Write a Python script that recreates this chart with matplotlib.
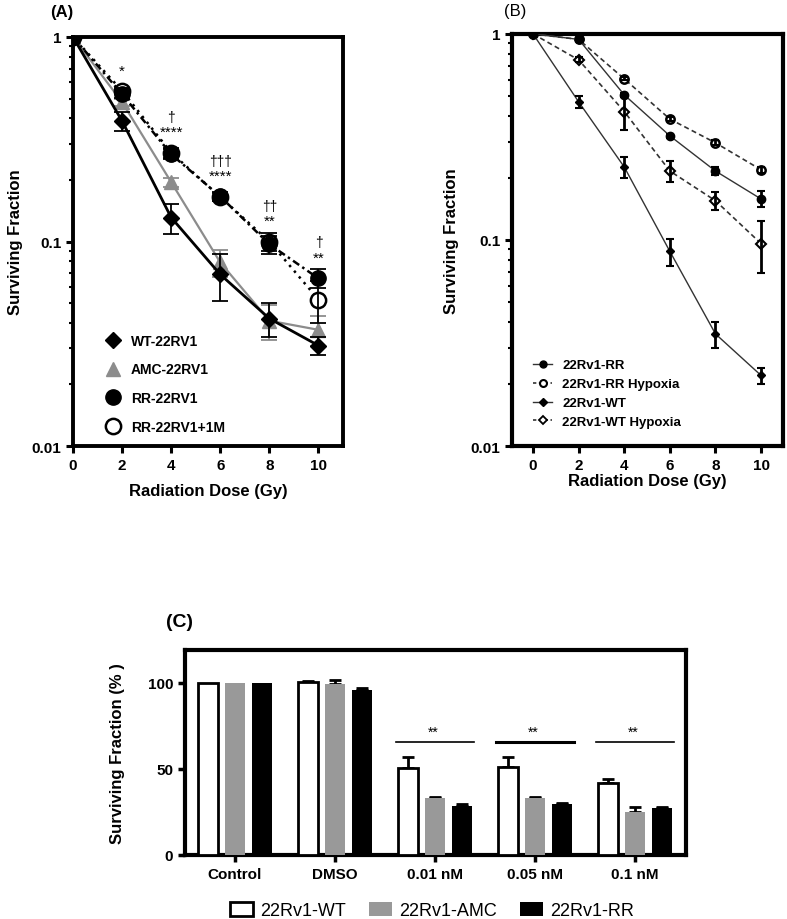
import matplotlib
matplotlib.use("Agg")
import matplotlib.pyplot as plt
from matplotlib.ticker import LogLocator, NullFormatter, FixedLocator
from matplotlib.lines import Line2D
from matplotlib.patches import Patch
import numpy as np

plt.rcParams['font.family'] = ['Liberation Sans', 'DejaVu Sans']

# ---------------- Panel A data ----------------
dose = [0, 2, 4, 6, 8, 10]
a_wt = [1.0, 0.388, 0.131, 0.069, 0.042, 0.031]
a_wt_err = [0.0, 0.04, 0.022, 0.018, 0.008, 0.003]
a_amc = [1.0, 0.48, 0.195, 0.079, 0.041, 0.037]
a_amc_err = [0.0, 0.02, 0.01, 0.012, 0.008, 0.006]
a_rr = [1.0, 0.525, 0.267, 0.166, 0.097, 0.066]
a_rr_err = [0.0, 0.02, 0.015, 0.008, 0.01, 0.007]
a_rr1m = [1.0, 0.545, 0.272, 0.165, 0.100, 0.052]
a_rr1m_err = [0.0, 0.02, 0.015, 0.008, 0.01, 0.012]
a_labels = ['WT-22RV1', 'AMC-22RV1', 'RR-22RV1', 'RR-22RV1+1M']
a_sig_x = [2, 4, 6, 8, 10]
a_sig_star = ['*', '****', '****', '**', '**']
a_sig_dag = ['', '†', '†††', '††', '†']

# ---------------- Panel B data ----------------
b_rr = [1.0, 0.94, 0.506, 0.32, 0.216, 0.158]
b_rr_err = [0.0, 0.01, 0.01, 0.008, 0.01, 0.014]
b_rrh = [1.0, 0.94, 0.605, 0.386, 0.296, 0.219]
b_rrh_err = [0.0, 0.01, 0.01, 0.01, 0.008, 0.008]
b_wt = [1.0, 0.468, 0.226, 0.088, 0.035, 0.022]
b_wt_err = [0.0, 0.03, 0.027, 0.013, 0.005, 0.002]
b_wth = [1.0, 0.748, 0.42, 0.216, 0.155, 0.096]
b_wth_err = [0.0, 0.02, 0.08, 0.025, 0.015, 0.027]
b_labels = ['22Rv1-RR', '22Rv1-RR Hypoxia', '22Rv1-WT', '22Rv1-WT Hypoxia']

# ---------------- Panel C data ----------------
c_groups = ['Control', 'DMSO', '0.01 nM', '0.05 nM', '0.1 nM']
c_wt = [100, 100.6, 50.6, 50.8, 41.9]
c_wt_err = [0, 0.5, 6.0, 6.0, 2.0]
c_amc = [100, 99, 33.1, 33.1, 25.2]
c_amc_err = [0, 2.8, 0.6, 0.8, 2.8]
c_rr = [100, 96, 28.6, 29.3, 27.3]
c_rr_err = [0, 0.8, 1.0, 0.7, 0.3]
c_labels = ['22Rv1-WT', '22Rv1-AMC', '22Rv1-RR']
c_sig_groups = [2, 3, 4]
c_sig_text = ['**', '**', '**']
c_sig_y = 65.7

fig = plt.figure(figsize=(7.87, 9.2), dpi=100)


def nz(xs, ys, es):
    idx = [i for i, e in enumerate(es) if e > 0]
    return [xs[i] for i in idx], [ys[i] for i in idx], [es[i] for i in idx]


def style_log_axis(ax, lw):
    ax.set_yscale('log')
    ax.set_ylim(0.01, 1)
    ax.yaxis.set_major_locator(FixedLocator([0.01, 0.1, 1]))
    ax.set_yticklabels(['0.01', '0.1', '1'])
    ax.yaxis.set_minor_locator(LogLocator(base=10, subs=np.arange(2, 10)))
    ax.yaxis.set_minor_formatter(NullFormatter())
    for s in ax.spines.values():
        s.set_linewidth(lw)
    ax.tick_params(axis='both', which='major', direction='out', length=5, width=2.2,
                   labelsize=11)
    ax.tick_params(axis='y', which='minor', direction='out', length=3, width=1.5)
    ax.set_xticks([0, 2, 4, 6, 8, 10])
    for lab in ax.get_xticklabels() + ax.get_yticklabels():
        lab.set_fontweight('bold')


# ---------------- Panel A ----------------
axA = fig.add_axes([0.0928, 0.5141, 0.343, 0.4446])
ebA = dict(ls='none', capsize=6, elinewidth=1.3, capthick=1.3)
axA.plot(dose, a_wt, color='black', lw=2, marker='D', ms=8, zorder=4)
axA.errorbar(*nz(dose, a_wt, a_wt_err), ecolor='black', zorder=4, **ebA)
axA.plot(dose, a_amc, color='#8c8c8c', lw=1.6, marker='^', ms=10, zorder=3)
axA.errorbar(*nz(dose, a_amc, a_amc_err), ecolor='#8c8c8c', zorder=3, **ebA)
axA.plot(dose, a_rr1m, color='black', lw=1.8, ls=(0, (1, 2)), marker='o', ms=11,
         mfc='white', mec='black', mew=1.8, zorder=5)
axA.errorbar(*nz(dose, a_rr1m, a_rr1m_err), ecolor='black', zorder=5, **ebA)
axA.plot(dose, a_rr, color='black', lw=1.8, ls=(0, (3, 1.5, 1, 1.5)), marker='o', ms=11,
         zorder=6)
axA.errorbar(*nz(dose, a_rr, a_rr_err), ecolor='black', zorder=6, **ebA)
axA.set_xlim(0, 11)
style_log_axis(axA, 2.8)
axA.set_xlabel('Radiation Dose (Gy)', fontsize=12, fontweight='bold', labelpad=8)
axA.set_ylabel('Surviving Fraction', fontsize=12, fontweight='bold', labelpad=6)
for xs, st, dg in zip(a_sig_x, a_sig_star, a_sig_dag):
    ysig = max(a_rr[dose.index(xs)], a_rr1m[dose.index(xs)])
    axA.text(xs, ysig * 1.26, st, ha='center', va='center', fontsize=11)
    if dg:
        axA.text(xs, ysig * 1.26 * 1.19, dg, ha='center', va='center', fontsize=10)
hA = [Line2D([], [], color='black', marker='D', ms=8, ls='none'),
      Line2D([], [], color='#8c8c8c', marker='^', ms=10, ls='none'),
      Line2D([], [], color='black', marker='o', ms=11, ls='none'),
      Line2D([], [], color='black', marker='o', ms=11, mfc='white', mew=1.8, ls='none')]
axA.legend(hA, a_labels, loc='lower left', bbox_to_anchor=(0.05, 0.0),
           frameon=False, prop={'weight': 'bold', 'size': 10},
           handletextpad=0.3, labelspacing=1.05)
fig.text(0.078, 0.986, '(A)', fontsize=12, fontweight='bold', ha='center', va='center')

# ---------------- Panel B ----------------
axB = fig.add_axes([0.6506, 0.5141, 0.3443, 0.448])
dcol = '#333333'
ebB = dict(ls='none', ecolor='black', capsize=3, elinewidth=2, capthick=1.5)
axB.plot(dose, b_rrh, color=dcol, lw=1.2, ls=(0, (3, 2)), marker='o', ms=6,
         mfc='white', mec='black', mew=1.8, zorder=4)
axB.errorbar(*nz(dose, b_rrh, b_rrh_err), zorder=4, **ebB)
axB.plot(dose, b_rr, color=dcol, lw=1.0, marker='o', ms=6, mfc='black', mec='black', zorder=5)
axB.errorbar(*nz(dose, b_rr, b_rr_err), zorder=5, **ebB)
axB.plot(dose, b_wth, color=dcol, lw=1.2, ls=(0, (3, 2)), marker='D', ms=5,
         mfc='white', mec='black', mew=1.5, zorder=4)
axB.errorbar(*nz(dose, b_wth, b_wth_err), zorder=4, **ebB)
axB.plot(dose, b_wt, color=dcol, lw=1.0, marker='D', ms=4, mfc='black', mec='black', zorder=4)
axB.errorbar(*nz(dose, b_wt, b_wt_err), zorder=4, **ebB)
axB.set_xlim(-0.92, 10.96)
style_log_axis(axB, 3)
axB.set_xlabel('Radiation Dose (Gy)', fontsize=12, fontweight='bold', labelpad=1)
axB.set_ylabel('Surviving Fraction', fontsize=12, fontweight='bold', labelpad=8)
hB = [Line2D([], [], color=dcol, lw=1.0, marker='o', ms=5, mfc='black', mec='black'),
      Line2D([], [], color=dcol, lw=1.2, ls=(0, (2, 1.5)), marker='o', ms=5, mfc='white', mec='black', mew=1.5),
      Line2D([], [], color=dcol, lw=1.0, marker='D', ms=4, mfc='black', mec='black'),
      Line2D([], [], color=dcol, lw=1.2, ls=(0, (2, 1.5)), marker='D', ms=4, mfc='white', mec='black', mew=1.3)]
axB.legend(hB, b_labels, loc='lower left', bbox_to_anchor=(0.035, 0.015), frameon=False,
           prop={'weight': 'bold', 'size': 9.5}, handlelength=1.4, handletextpad=0.8,
           labelspacing=0.5)
fig.text(0.654, 0.988, '(B)', fontsize=12, ha='center', va='center')

# ---------------- Panel C ----------------
axC = fig.add_axes([0.2351, 0.0696, 0.6366, 0.2228])
x = np.arange(len(c_groups))
off = 0.27
w = 0.2
ekw = dict(ls='none', elinewidth=2, capthick=2, capsize=4, ecolor='black', zorder=2)
axC.bar(x - off, c_wt, w, color='white', edgecolor='black', lw=2, zorder=3)
axC.bar(x, c_amc, w, color='#999999', edgecolor='none', zorder=3)
axC.bar(x + off, c_rr, w, color='black', edgecolor='none', zorder=3)
for xo, vals, errs in [(-off, c_wt, c_wt_err), (0, c_amc, c_amc_err), (off, c_rr, c_rr_err)]:
    xe, ye, ee = nz(list(x + xo), vals, errs)
    axC.errorbar(xe, ye, yerr=[np.zeros(len(ee)), ee], **ekw)
for g, t in zip(c_sig_groups, c_sig_text):
    axC.plot([g - 0.39, g + 0.39], [c_sig_y, c_sig_y], color='black',
             lw=1.2 if g != 3 else 2.2)
    axC.text(g - 0.02, c_sig_y + 1.5, t, ha='center', va='bottom', fontsize=10)
axC.set_xlim(-0.5, 4.51)
axC.set_ylim(0, 119)
axC.set_xticks(x)
axC.set_xticklabels(c_groups, fontsize=11, fontweight='bold')
axC.set_yticks([0, 50, 100])
axC.set_yticklabels(['0', '50', '100'], fontsize=11, fontweight='bold')
for s in axC.spines.values():
    s.set_linewidth(3)
axC.tick_params(axis='both', direction='out', length=5, width=2.5)
axC.set_ylabel('Surviving Fraction (% )', fontsize=12, fontweight='bold', labelpad=16)
fig.text(0.228, 0.323, '(C)', fontsize=14, fontweight='bold', ha='center', va='center')
hC = [Patch(facecolor='white', edgecolor='black', lw=2),
      Patch(facecolor='#999999', edgecolor='none'),
      Patch(facecolor='black', edgecolor='none')]
fig.legend(hC, c_labels, loc='center', bbox_to_anchor=(0.549, 0.009), ncol=3,
           frameon=False, fontsize=13, handlelength=1.25, handleheight=0.75,
           columnspacing=1.3, handletextpad=0.4, borderaxespad=0, borderpad=0)

fig.savefig('out.png', dpi=100)
